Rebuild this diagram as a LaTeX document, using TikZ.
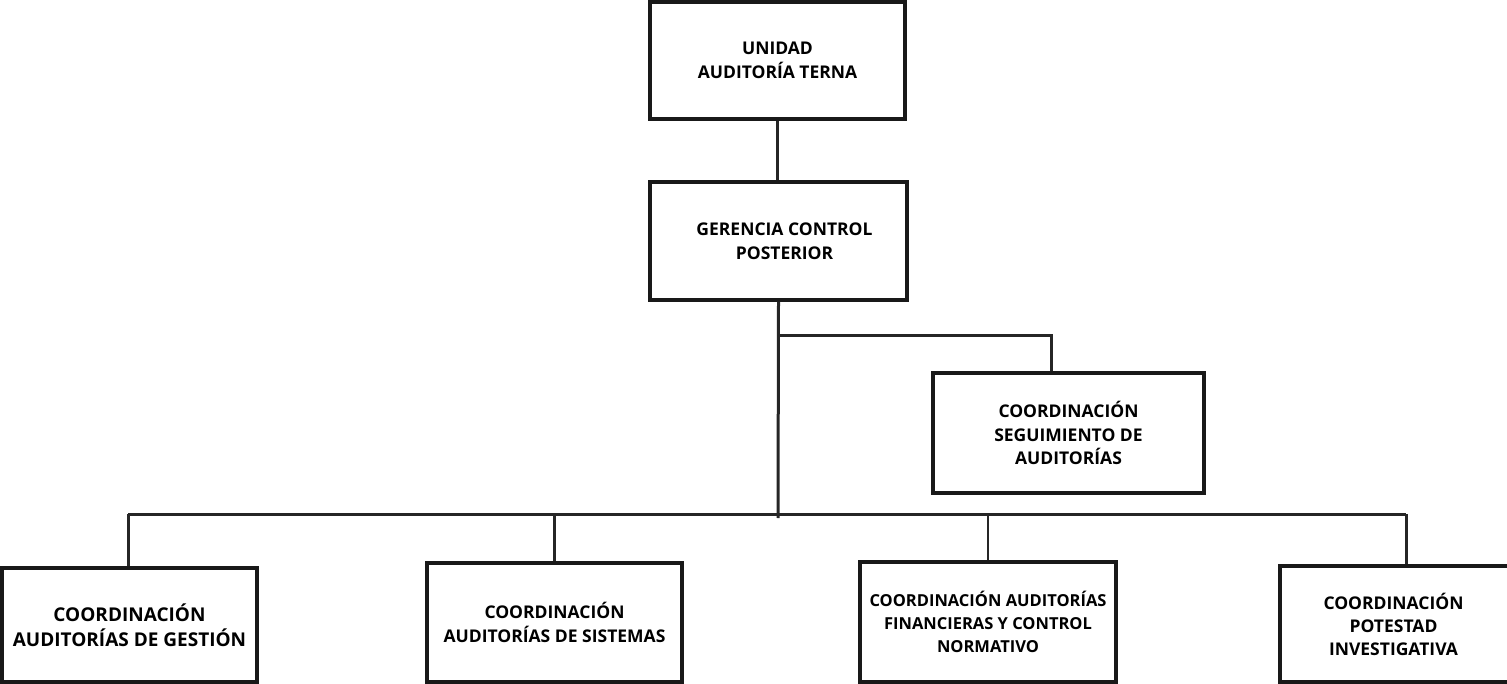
\documentclass[tikz,border=0pt]{standalone}
\usepackage{fontspec}
\setmainfont{Open Sans}
\begin{document}
\begin{tikzpicture}[x=1pt,y=-1pt,
  box/.style={draw=black!90, line width=3.4pt, fill=white, align=center, inner sep=0pt,
    font=\bfseries\fontsize{17.5}{24}\selectfont},
  conn/.style={draw=black!85, line width=3pt}]
\useasboundingbox (0,0) rectangle (1507,684);

\node[box, minimum width=255pt, minimum height=117pt] (unidad) at (777.5,60.5) {UNIDAD\\AUDITORÍA TERNA};
\node[box, minimum width=257pt, minimum height=118pt] (gerencia) at (778.5,241) {\hspace*{12pt}GERENCIA CONTROL\\\hspace*{12pt}POSTERIOR};
\node[box, minimum width=271pt, minimum height=120pt, font=\bfseries\fontsize{17.5}{23.5}\selectfont] (seguim) at (1068.5,433) {COORDINACIÓN\\SEGUIMIENTO DE\\AUDITORÍAS};
\node[box, minimum width=255pt, minimum height=114pt, font=\bfseries\fontsize{19}{25}\selectfont] (gestion) at (129.5,625) {COORDINACIÓN\\AUDITORÍAS DE GESTIÓN};
\node[box, minimum width=255pt, minimum height=119pt] (sistemas) at (554.5,622.5) {COORDINACIÓN\\AUDITORÍAS DE SISTEMAS};
\node[box, minimum width=256pt, minimum height=120pt, font=\bfseries\fontsize{16.5}{23}\selectfont] (financ) at (988,622) {COORDINACIÓN AUDITORÍAS\\FINANCIERAS Y CONTROL\\NORMATIVO};
\node[box, minimum width=235pt, minimum height=116pt, font=\bfseries\fontsize{17.5}{23}\selectfont] (potestad) at (1397.5,624) {\hspace*{-8pt}COORDINACIÓN\\\hspace*{-8pt}POTESTAD\\\hspace*{-8pt}INVESTIGATIVA};

\coordinate (j1) at (778,336);
\coordinate (sd) at (1051,336);
\coordinate (bm) at (778,518);
\coordinate (bl) at (128,514);
\coordinate (br) at (1406,514);

\draw[conn] (unidad.south) -- (unidad.south |- gerencia.north);
\draw[conn] (gerencia.south) -- (bm);
\draw[conn] (j1) -- (sd) -- (sd |- seguim.north);
\draw[conn] (bl) -- (br);
\draw[conn] (bl) -- (bl |- gestion.north);
\draw[conn] (sistemas.north |- bl) -- (sistemas.north);
\draw[conn, line width=2pt] (financ.north |- bl) -- (financ.north);
\draw[conn] (br) -- (br |- potestad.north);
\end{tikzpicture}
\end{document}
